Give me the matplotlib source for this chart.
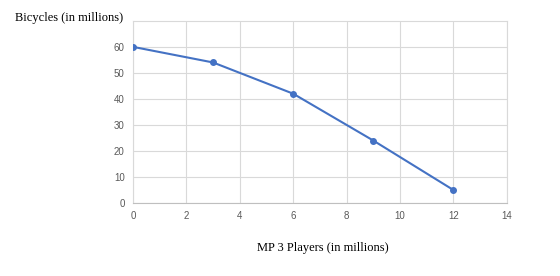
import matplotlib.pyplot as plt

players = [0, 3, 6, 9, 12]
bicycles = [60, 54, 42, 24, 5]
x_ticks = [0, 2, 4, 6, 8, 10, 12, 14]
y_ticks = [0, 10, 20, 30, 40, 50, 60, 70]

fig = plt.figure(figsize=(5.6, 2.76), dpi=100)
ax = fig.add_axes([0.2375, 0.2645, 0.6675, 0.66])

ax.plot(players, bicycles, color='#4472C4', linewidth=1.5, marker='o', markersize=4, zorder=3)

ax.set_xlim(0, 14)
ax.set_ylim(0, 70)
ax.set_xticks(x_ticks)
ax.set_yticks(y_ticks[:-1])
ax.grid(True, color='#d9d9d9', linewidth=0.8)
for s in ax.spines.values():
    s.set_color('#d9d9d9')
    s.set_linewidth(0.8)
ax.spines['bottom'].set_color('#bfbfbf')
ax.tick_params(length=0, labelsize=7, labelcolor='#595959', pad=6)
for lab in ax.get_xticklabels() + ax.get_yticklabels():
    lab.set_family('Liberation Sans')

fig.text(0.027, 0.935, 'Bicycles (in millions)', family='Liberation Serif', fontsize=9, va='center')
fig.text(0.577, 0.10, 'MP 3 Players (in millions)', family='Liberation Serif', fontsize=9, ha='center', va='center')

fig.savefig('out.png', dpi=100)
